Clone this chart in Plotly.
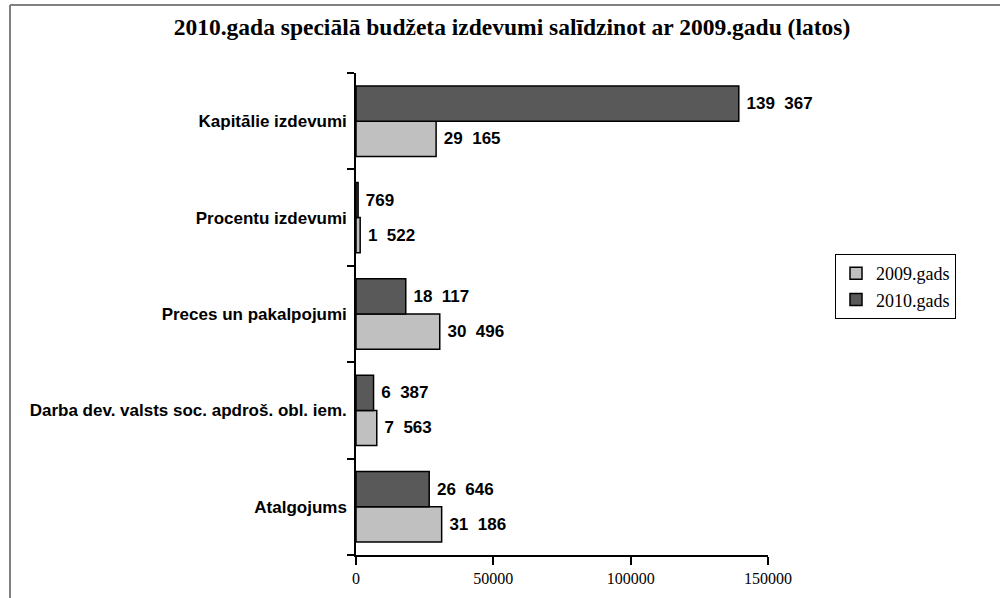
import plotly.graph_objects as go

categories = ['Atalgojums', 'Darba dev. valsts soc. apdroš. obl. iem.',
              'Preces un pakalpojumi', 'Procentu izdevumi', 'Kapitālie izdevumi']
values_2009 = [31186, 7563, 30496, 1522, 29165]
values_2010 = [26646, 6387, 18117, 769, 139367]
x_ticks = [0, 50000, 100000, 150000]


def fmt(v):
    # thousands separated by two spaces like the original
    if v >= 1000:
        return f"\u00a0{v // 1000}\u00a0\u00a0{v % 1000:03d}"
    return f"\u00a0{v}"


label_font = dict(family='Liberation Sans', size=17, color='black', weight='bold')

fig = go.Figure()
fig.add_trace(go.Bar(
    y=categories, x=values_2009, name='2009.gads', orientation='h',
    marker=dict(color='#c0c0c0', line=dict(color='black', width=1.5)),
    text=[fmt(v) for v in values_2009], textposition='outside',
    textfont=label_font, cliponaxis=False,
))
fig.add_trace(go.Bar(
    y=categories, x=values_2010, name='2010.gads', orientation='h',
    marker=dict(color='#595959', line=dict(color='black', width=1.5)),
    text=[fmt(v) for v in values_2010], textposition='outside',
    textfont=label_font, cliponaxis=False,
))

# plot area pixels: x 356..768, y 73..555
L, R, T, B = 356, 768, 73, 555
W, H = R - L, B - T

fig.update_layout(
    width=1000, height=598,
    margin=dict(l=L, r=1000 - R, t=T, b=598 - B, autoexpand=False),
    paper_bgcolor='white', plot_bgcolor='white',
    barmode='group', bargap=0.27, bargroupgap=0,
    title=dict(text='<b>2010.gada speciālā budžeta izdevumi salīdzinot ar 2009.gadu (latos)</b>',
               x=0.512, xanchor='center', y=1 - 27 / 598, yanchor='middle',
               font=dict(family='Liberation Serif', size=23.5, color='black')),
    legend=dict(x=(835 - L) / W, y=(B - 254) / H, xanchor='left', yanchor='top',
                bordercolor='black', borderwidth=1, bgcolor='white',
                font=dict(family='Liberation Serif', size=18, color='black'),
                traceorder='normal', itemwidth=30),
    xaxis=dict(range=[0, 150000], tickvals=x_ticks, ticktext=[str(t) for t in x_ticks],
               showgrid=False, zeroline=False, showline=True, linecolor='black', linewidth=1.5,
               ticks='outside', ticklen=8, tickcolor='black', tickwidth=1.5,
               tickfont=dict(family='Liberation Serif', size=16, color='black')),
    yaxis=dict(showgrid=False, zeroline=False, showline=True, linecolor='black', linewidth=1.5,
               ticks='outside', ticklen=7, tickcolor='black', tickwidth=1.5, tickson='boundaries',
               tickfont=dict(family='Liberation Sans', size=17, color='black', weight='bold'),
               ticklabelstandoff=4),
    showlegend=True,
)

# x axis line stub left of zero, and the chart frame (top and left)
fig.add_shape(type='line', xref='paper', yref='paper', x0=(349 - L) / W, x1=0, y0=0, y1=0,
              line=dict(color='black', width=1.5))
fig.add_shape(type='line', xref='paper', yref='paper', x0=(10 - L) / W, x1=(1000 - L) / W,
              y0=(B - 5) / H, y1=(B - 5) / H, line=dict(color='#808080', width=2))
fig.add_shape(type='line', xref='paper', yref='paper', x0=(10 - L) / W, x1=(10 - L) / W,
              y0=(B - 5) / H, y1=(B - 600) / H, line=dict(color='#808080', width=2))

fig.write_html("out.html", config={'displayModeBar': False},
               post_script="document.body.style.margin='0';")
